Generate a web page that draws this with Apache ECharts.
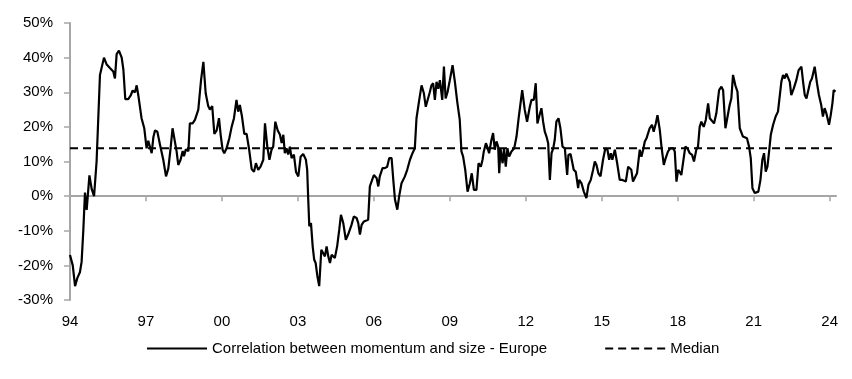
<!DOCTYPE html>
<html>
<head>
<meta charset="utf-8">
<script src="https://cdn.jsdelivr.net/npm/echarts@6/dist/echarts.min.js"></script>
<style>
html,body{margin:0;padding:0;background:#fff;}
#chart{width:852px;height:379px;}
</style>
</head>
<body>
<div id="chart"></div>
<script>
// Months since Jan 1994
const monthIdx = [
0,1.3,2.4,3.5,4.7,5.5,6.3,7.1,7.9,9.2,10.3,11.4,12.6,14.2,16.1,17.4,18.9,20.5,21.3,22.1,23.2,24.5,25.3,26.2,27.6,28.7,29.7,30.8,31.6,32.4,33.9,35.2,36.3,37.1,37.9,38.7,39.5,40.3,41.4,42.6,44.2,45.5,46.6,47.7,48.6,49.3,50.5,51.3,52.4,53.4,54.0,54.9,56.1,56.8,58.1,59.2,60.8,62.1,63.2,64.3,65.5,66.3,67.4,68.4,69.5,70.6,71.4,72.3,73.1,74.2,75.5,76.6,77.7,78.9,79.7,80.5,81.5,82.6,83.7,84.9,86.1,87.2,88.1,89.2,90.3,91.6,92.4,93.5,94.5,95.5,96.3,97.3,98.4,99.5,100.3,101.1,101.8,102.6,103.4,104.2,105.0,106.1,107.1,108.2,
109.3,110.5,111.8,112.4,112.9,113.4,114.2,115.0,115.7,116.4,117.2,118.1,119.1,120.0,120.8,121.6,122.4,123.2,124.0,124.7,125.5,126.6,127.6,128.4,129.5,130.7,131.8,132.6,133.4,134.5,135.8,136.6,137.4,138.2,139.3,140.2,141.3,142.1,142.9,144.0,145.3,146.1,146.8,148.1,149.2,150.3,151.3,152.4,153.2,154.0,155.1,156.0,157.1,158.7,159.8,161.1,162.3,163.4,164.2,165.5,166.6,167.7,168.6,169.4,170.5,171.3,172.1,172.9,173.7,174.5,175.3,176.4,177.2,178.0,178.9,180.0,181.3,182.4,183.5,184.7,185.5,186.3,187.3,188.4,189.5,190.4,191.4,192.6,193.6,194.7,195.5,196.1,197.1,197.7,198.6,199.7,200.5,201.3,202.1,202.9,203.4,204.0,205.0,205.7,206.5,207.3,208.1,209.2,210.5,211.6,212.7,214.3,215.5,216.6,217.9,218.7,219.8,220.7,221.5,222.3,223.4,224.2,225.0,225.8,226.6,227.4,228.2,229.0,229.7,230.5,231.5,232.4,233.4,234.5,235.6,236.2,237.2,238.1,238.7,239.7,240.8,
241.3,242.4,243.5,244.7,245.7,246.8,247.9,248.7,249.5,250.4,251.4,252.6,253.7,254.7,255.5,256.3,257.0,258.2,259.3,260.5,261.5,262.4,263.4,264.5,265.3,266.0,266.8,267.6,268.7,270.0,270.8,271.6,272.4,273.2,273.9,274.7,275.8,276.6,277.6,278.4,279.5,280.3,281.4,282.3,283.4,284.5,285.8,286.6,287.4,288.2,288.9,289.7,290.5,291.6,292.6,293.7,294.8,295.7,296.8,297.6,298.4,299.2,300.3,301.3,302.4,303.2,304.1,305.2,306.3,307.6,308.7,309.5,310.6,311.5,312.6,313.4,314.2,315.3,316.3,317.4,318.2,318.9,319.7,320.8,321.8,322.6,323.4,324.5,325.3,326.2,327.2,328.1,328.9,329.7,330.5,331.3,332.1,333.2,334.4,335.5,336.3,337.1,337.9,338.7,339.5,340.3,341.1,341.8,343.0,344.2,345.3,346.6,347.4,348.2,349.0,349.7,350.8,351.6,352.9,354.0,354.9,356.0,356.8,357.6,358.4,359.7,360.5,361.3,361.9,362.8
];
// Correlation between momentum and size - Europe, in %
const corr = [
-17,-20,-26,-23.6,-22,-19,-10,1,-4,6,2,0,10,35,40,38,37,36,34,41,42,40,36.5,28,28,29,30.5,30,32,29,22.5,19.6,13.8,16,15.8,12.4,17,19,18.6,15,10.5,5.7,8,14,19.6,20,13,9,10.5,13,11.5,13.5,13,21,21,22,25,33.5,38.8,29.7,26,25,26,18,19,22.5,17.7,13.4,12.4,13.8,16.7,20,22.5,27.8,24.4,26.3,23,18,18,13.4,7.8,7,9.5,7.6,8.5,10.5,21,14.3,10.5,13.4,14.3,21.5,19,17.7,15.3,17.7,12.4,13.8,12,14.3,11,12,7,5.7,
11.4,12.2,10.5,7.6,-1,-8.7,-7.8,-14.5,-18.3,-19.3,-23,-26,-15.5,-15,-17.4,-14.5,-17.4,-19.3,-16.9,-16.9,-17.9,-14.5,-9.7,-5.4,-7.8,-12.6,-11.1,-11.6,-8.3,-5.9,-6.3,-7.8,-11.1,-8.3,-7.3,-6.8,-6.8,2.8,4.2,6.1,5.2,2.8,5.7,8.1,8.1,8.5,11,11,4.7,-1,-3.9,0,3.7,5.7,7.6,10.5,12.4,13.8,22.5,27.8,32,29.7,25.8,25.4,30,32,32.6,27.8,33,31,33.5,27.8,37.4,28.2,30,33.5,37.8,33,27.3,22,12.9,11.4,7.6,1.3,3.7,6.6,1.8,1.8,9.5,8.5,10.5,12.9,15.3,14.3,12.4,16.2,18.2,13.4,15.8,14.3,6.6,13.8,9.5,13.8,8.5,13.8,11.4,12.9,13.8,17.2,23,30.6,24.9,21.5,25.8,27.8,27.8,32.6,21,22.9,25.4,21.5,18.6,17.2,15.3,4.7,12.4,13.8,16.2,21.5,22.5,19.6,14.3,13.8,6.1,11.9,12.2,9.5,7.6,7,2.3,
4.7,3.7,1.3,-0.6,3.3,4.7,7.6,10,9,6.6,5.7,10.5,13.8,13.4,10.5,12.4,10.5,13.4,9.5,4.7,4.7,4.2,4.2,8.5,9,7.6,4.2,4.2,6.6,13.4,11.4,13.4,15.8,16.7,17.2,19.6,20.6,18.6,21,23.4,19.1,14.3,9,11,12.9,13.8,13.8,12.9,4.2,7.6,7,6.1,6.6,14.3,13.8,12.4,11.9,10,13.4,14.3,20,21.5,20,22,26.8,22.5,22.5,21,23.9,30.6,31.6,30.6,19.6,19.6,26.3,28.2,35,32,30.2,19.6,19.1,17.2,16.7,16.7,14.3,11,2.3,0.9,0.4,1.3,4.7,10.5,12.4,7.1,8.5,12.9,17.7,20.6,23,24.4,24.9,33,35,34,35.4,34.9,33,29.2,31.1,33.5,36.4,37.4,33,29.2,28.2,28.7,33,34,37.4,32.6,29.2,26.3,23,25.4,24,20.6,23.4,26.8,30.6,30.2
];
const medianValue = 13.8;
const xMaxMonth = 363;
const tickLabels = ['94','97','00','03','06','09','12','15','18','21','24'];
const tickStepMonths = 36;
const yTicks = [-30,-20,-10,0,10,20,30,40,50];

const tickPositions = tickLabels.map((_, i) => i * tickStepMonths);
const mainData = monthIdx.map((m, i) => [m, corr[i]]);
const medianData = [[0, medianValue], [xMaxMonth, medianValue]];

const FONT = '"Liberation Sans", Arial, sans-serif';
const chart = echarts.init(document.getElementById('chart'), null, {renderer: 'canvas'});
chart.setOption({
  animation: false,
  backgroundColor: '#fff',
  textStyle: {fontFamily: FONT},
  grid: {left: 70, top: 23, right: 16, bottom: 79, containLabel: false},
  legend: {
    left: 141, top: 336,
    itemWidth: 60, itemHeight: 14, itemGap: 57,
    itemStyle: {opacity: 0},
    textStyle: {fontFamily: FONT, fontSize: 15, color: '#000'},
    data: ['Correlation between momentum and size - Europe', 'Median']
  },
  xAxis: [
    {
      type: 'value', min: 0, max: xMaxMonth,
      axisLine: {onZero: true, lineStyle: {color: '#a6a6a6', width: 2}},
      axisTick: {show: true, length: 5, lineStyle: {color: '#a6a6a6', width: 1.5}, customValues: tickPositions},
      axisLabel: {show: false},
      splitLine: {show: false}
    },
    {
      type: 'value', min: 0, max: xMaxMonth, position: 'bottom',
      axisLine: {show: false, onZero: false},
      axisTick: {show: false},
      axisLabel: {
        show: true, margin: 14, fontSize: 15, color: '#000', fontFamily: FONT,
        customValues: tickPositions,
        formatter: v => tickLabels[Math.round(v / tickStepMonths)] || ''
      },
      splitLine: {show: false}
    }
  ],
  yAxis: {
    type: 'value', min: yTicks[0], max: yTicks[yTicks.length - 1], interval: 10,
    axisLine: {show: true, lineStyle: {color: '#a6a6a6', width: 2}},
    axisTick: {show: true, length: 6, lineStyle: {color: '#a6a6a6', width: 1.5}},
    axisLabel: {margin: 17, fontSize: 15, color: '#000', fontFamily: FONT, formatter: '{value}%'},
    splitLine: {show: false}
  },
  series: [
    {
      name: 'Correlation between momentum and size - Europe',
      type: 'line', xAxisIndex: 0, data: mainData,
      showSymbol: false, symbol: 'none',
      lineStyle: {color: '#000', width: 2.2},
      itemStyle: {color: '#000'},
      z: 3
    },
    {
      name: 'Median',
      type: 'line', xAxisIndex: 0, data: medianData,
      showSymbol: false, symbol: 'none',
      lineStyle: {color: '#000', width: 2, type: [8, 5]},
      itemStyle: {color: '#000'},
      z: 2
    }
  ]
});
</script>
</body>
</html>
